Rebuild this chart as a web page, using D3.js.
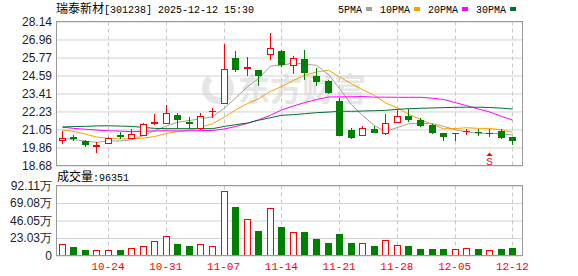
<!DOCTYPE html>
<html>
<head>
<meta charset="utf-8">
<script src="https://cdn.jsdelivr.net/npm/d3@7"></script>
<style>
  body { margin: 0; background: #fff; }
  svg { display: block; }
</style>
</head>
<body>
<div id="chart"></div>
<script>
// trading days shown (MM-DD)
const dates = ["10-20","10-21","10-22","10-23","10-24","10-27","10-28","10-29","10-30","10-31",
  "11-03","11-04","11-05","11-06","11-07","11-10","11-11","11-12","11-13","11-14",
  "11-17","11-18","11-19","11-20","11-21","11-24","11-25","11-26","11-27","11-28",
  "12-01","12-02","12-03","12-04","12-05","12-08","12-09","12-10","12-11","12-12"];

const openP  = [20.31,20.53,20.31,19.90,20.12,20.66,20.45,20.62,21.41,21.41,
  22.02,21.52,21.10,22.20,22.74,25.71,25.04,24.93,25.95,26.17,
  25.19,25.65,24.53,24.20,22.89,20.99,20.66,21.06,20.77,21.50,
  21.91,21.65,21.36,20.80,20.78,20.95,20.86,20.82,20.93,20.53];
const closeP = [20.51,20.38,20.05,20.01,20.51,20.51,20.77,21.43,21.56,22.15,
  21.67,21.41,21.93,22.23,25.04,24.93,25.17,24.55,26.41,25.25,
  25.74,24.75,24.14,23.42,20.62,20.49,21.17,20.82,21.50,21.93,
  21.67,21.28,20.82,20.56,20.80,20.97,20.80,20.84,20.49,20.29];
const highP  = [20.93,20.66,20.38,20.21,20.53,20.86,21.06,21.45,22.09,22.63,
  22.11,21.87,22.15,22.46,26.63,26.17,25.78,24.98,27.38,26.24,
  25.85,26.28,25.10,24.27,23.13,21.14,21.25,21.25,22.04,22.35,
  22.39,21.78,21.42,20.84,20.82,21.08,21.08,21.06,21.06,20.58];
const lowP   = [20.10,20.29,19.90,19.51,20.10,20.40,20.45,20.60,21.37,21.41,
  21.10,21.10,20.99,21.82,22.74,24.82,24.55,23.90,25.58,25.14,
  24.71,24.27,23.90,23.35,20.60,20.42,20.60,20.80,20.71,21.50,
  21.54,21.21,20.73,20.29,20.29,20.69,20.64,20.56,20.42,20.03];

// volume, in 万
const volume = [14.6,10.6,6.6,7.5,7.5,7.5,10.2,12.9,18.6,26.2,
  14.6,12.0,15.5,12.9,84.7,63.8,47.4,31.9,62.1,37.2,
  30.6,30.6,21.3,16.0,27.9,16.0,16.0,12.0,19.9,14.2,
  12.9,8.0,8.0,8.0,8.9,10.2,8.0,7.5,8.0,9.64];

// moving averages
const ma5  = [20.46,20.38,20.28,20.20,20.29,20.29,20.37,20.65,20.96,21.28,
  21.52,21.64,21.74,21.88,22.46,23.11,23.86,24.38,25.22,25.26,
  25.42,25.34,25.26,24.66,23.73,22.68,21.97,21.30,20.92,21.18,
  21.42,21.44,21.44,21.25,21.03,20.89,20.79,20.79,20.78,20.68];
const ma10 = [21.02,20.92,20.74,20.55,20.46,20.42,20.44,20.48,20.58,20.79,
  20.91,21.01,21.20,21.42,21.87,22.32,22.75,23.06,23.55,23.86,
  24.27,24.60,24.82,24.94,24.50,24.05,23.66,23.28,22.79,22.46,
  22.05,21.71,21.37,21.09,21.11,21.16,21.12,21.12,21.02,20.86];
const ma20 = [21.20,21.12,21.06,21.01,20.96,20.94,20.90,20.93,20.95,20.96,
  20.95,20.96,20.97,20.98,21.08,21.24,21.45,21.68,21.98,22.33,
  22.59,22.81,23.01,23.18,23.19,23.19,23.21,23.17,23.17,23.16,
  23.16,23.16,23.10,23.02,22.81,22.61,22.39,22.20,21.91,21.66];
const ma30 = [21.21,21.24,21.25,21.28,21.29,21.27,21.25,21.18,21.12,21.10,
  21.10,21.10,21.10,21.10,21.25,21.36,21.47,21.65,21.82,21.98,
  22.02,22.08,22.15,22.19,22.24,22.24,22.26,22.28,22.30,22.37,
  22.41,22.44,22.46,22.48,22.50,22.51,22.51,22.49,22.45,22.39];

const priceTicks = [28.14, 26.96, 25.77, 24.59, 23.41, 22.23, 21.05, 19.86, 18.68];
const volTicks = [0, 23.03, 46.05, 69.08, 92.11];
const dateTicks = ["10-24","10-31","11-07","11-14","11-21","11-28","12-05","12-12"];
const signalDay = "12-10";

const maSeries = [
  { name: "5PMA",  values: ma5,  color: "#a0a0a0" },
  { name: "10PMA", values: ma10, color: "#f5a300" },
  { name: "20PMA", values: ma20, color: "#ff00ff" },
  { name: "30PMA", values: ma30, color: "#006f2f" }
];

const UP = "#ff0000", DOWN = "#008000";
const sansFont = "'Liberation Sans', Arial, sans-serif";
const monoFont = "'Liberation Mono', monospace";
const cjkFont = "'Noto Sans CJK SC', sans-serif";

const width = 578, height = 276;
const left = 56, right = 522;

const svg = d3.select("#chart").append("svg")
  .attr("width", width)
  .attr("height", height);

const x = d3.scaleBand()
  .domain(d3.range(dates.length))
  .range([left, 518.2]);
const cx = i => Math.round(x(i) + x.bandwidth() / 2) + 0.5;

const y = d3.scaleLinear().domain([18.68, 28.14]).range([165.5, 21.5]);
const yv = d3.scaleLinear().domain([0, 92.11]).range([255.5, 185.5]);

///////////////////////////// header /////////////////////////////
const title = svg.append("text").attr("x", left).attr("y", 13).attr("fill", "#000");
title.append("tspan").style("font", `12px ${cjkFont}`).text("瑞泰新材");
title.append("tspan").style("font", `10px ${monoFont}`).text("[301238] 2025-12-12 15:30");

const legend = svg.append("g");
let lx = 338;
maSeries.forEach(s => {
  const t = legend.append("text").attr("x", lx).attr("y", 13)
    .style("font", `10px ${monoFont}`).attr("fill", "#000").text(s.name);
  const w = t.node().getComputedTextLength();
  legend.append("rect").attr("x", lx + w + 4).attr("y", 7).attr("width", 6).attr("height", 4)
    .attr("fill", s.color);
  lx += w + 4 + 6 + 8;
});

///////////////////////////// price panel /////////////////////////////
// watermark
const wm = svg.append("g").attr("fill", "#e6e6e6");
wm.append("path")
  .attr("d", d3.arc()({ innerRadius: 9, outerRadius: 16, startAngle: 0.6, endAngle: 5.6 }))
  .attr("transform", "translate(218,88)");
wm.append("text").attr("x", 238).attr("y", 101)
  .style("font", `bold 32px ${cjkFont}`).text("东方财富");

const yAxis = svg.append("g")
  .attr("transform", `translate(${left},0)`)
  .call(d3.axisLeft(y).tickValues(priceTicks).tickSize(-(right - left)).tickPadding(4)
    .tickFormat(d3.format(".2f")));
yAxis.select(".domain").remove();
yAxis.selectAll("line").attr("stroke", "#d2d2d2");
yAxis.selectAll("text").style("font", `12px ${sansFont}`).attr("fill", "#1c1c2c");

const tickIdx = dateTicks.map(d => dates.indexOf(d));
svg.append("g").selectAll("line")
  .data(tickIdx).enter().append("line")
  .attr("x1", d => cx(d)).attr("x2", d => cx(d))
  .attr("y1", y(28.14)).attr("y2", y(18.68))
  .attr("stroke", "#c8c8c8").attr("stroke-dasharray", "4,3");

svg.append("rect")
  .attr("x", left + 0.5).attr("y", y(28.14))
  .attr("width", right - left).attr("height", y(18.68) - y(28.14))
  .attr("fill", "none").attr("stroke", "#9a9a9a");

// moving averages
const maLine = d3.line().x((d, i) => cx(i)).y(d => y(d));
svg.append("g").selectAll("path")
  .data(maSeries).enter().append("path")
  .attr("d", d => maLine(d.values))
  .attr("fill", "none")
  .attr("stroke", d => d.color)
  .attr("stroke-width", 1);

// candles
const candles = svg.append("g").selectAll("g")
  .data(dates.map((d, i) => i)).enter().append("g");
candles.append("line")
  .attr("x1", i => cx(i)).attr("x2", i => cx(i))
  .attr("y1", i => Math.round(y(highP[i]))).attr("y2", i => Math.round(y(lowP[i])))
  .attr("stroke", i => closeP[i] >= openP[i] ? UP : DOWN);
candles.append("rect")
  .attr("x", i => closeP[i] >= openP[i] ? cx(i) - 3 : cx(i) - 3.5)
  .attr("width", i => closeP[i] >= openP[i] ? 6 : 7)
  .attr("y", i => {
    const t = Math.round(y(Math.max(openP[i], closeP[i])));
    return closeP[i] >= openP[i] ? t + 0.5 : t;
  })
  .attr("height", i => {
    const h = Math.max(1, Math.round(Math.abs(y(openP[i]) - y(closeP[i]))));
    return closeP[i] >= openP[i] ? Math.max(h - 1, 0.01) : h;
  })
  .attr("fill", i => closeP[i] >= openP[i] ? "#fff" : DOWN)
  .attr("stroke", i => closeP[i] >= openP[i] ? UP : "none");

// sell signal
const si = dates.indexOf(signalDay);
svg.append("path")
  .attr("d", `M${cx(si) - 3},${156} L${cx(si)},${152.5} L${cx(si) + 3},${156} Z`)
  .attr("fill", UP);
svg.append("text").attr("x", cx(si)).attr("y", 165).attr("text-anchor", "middle")
  .style("font", `11px ${monoFont}`).attr("fill", UP).text("S");

///////////////////////////// volume panel /////////////////////////////
svg.append("text").attr("x", left + 1).attr("y", 181).attr("fill", "#000")
  .call(t => {
    t.append("tspan").style("font", `12px ${cjkFont}`).text("成交量");
    t.append("tspan").style("font", `10px ${monoFont}`).text(":96351");
  });

const vAxis = svg.append("g")
  .attr("transform", `translate(${left},0)`)
  .call(d3.axisLeft(yv).tickValues(volTicks).tickSize(-(right - left)).tickPadding(4)
    .tickFormat(d => d === 0 ? "0" : d3.format(".2f")(d) + "万"));
vAxis.select(".domain").remove();
vAxis.selectAll("line").attr("stroke", "#d2d2d2");
vAxis.selectAll("text").style("font", `12px ${sansFont}`).attr("fill", "#1c1c2c");

svg.append("g").selectAll("line")
  .data(tickIdx).enter().append("line")
  .attr("x1", d => cx(d)).attr("x2", d => cx(d))
  .attr("y1", yv(92.11)).attr("y2", yv(0))
  .attr("stroke", "#c8c8c8").attr("stroke-dasharray", "4,3");

svg.append("g").selectAll("rect")
  .data(volume).enter().append("rect")
  .attr("x", (d, i) => closeP[i] >= openP[i] ? cx(i) - 3 : cx(i) - 3.5)
  .attr("width", (d, i) => closeP[i] >= openP[i] ? 6 : 7)
  .attr("y", (d, i) => closeP[i] >= openP[i] ? Math.round(yv(d)) + 0.5 : Math.round(yv(d)))
  .attr("height", (d, i) => Math.round(yv(0)) - Math.round(yv(d)) - (closeP[i] >= openP[i] ? 1 : 0))
  .attr("fill", (d, i) => closeP[i] >= openP[i] ? "#fff" : DOWN)
  .attr("stroke", (d, i) => closeP[i] >= openP[i] ? UP : "none");

svg.append("rect")
  .attr("x", left + 0.5).attr("y", yv(92.11))
  .attr("width", right - left).attr("height", yv(0) - yv(92.11))
  .attr("fill", "none").attr("stroke", "#9a9a9a");

// date labels
const xAxis = svg.append("g")
  .attr("transform", `translate(0,${yv(0)})`)
  .call(d3.axisBottom(x).tickValues(tickIdx).tickSize(0).tickPadding(7)
    .tickFormat(i => dates[i]));
xAxis.select(".domain").remove();
xAxis.selectAll("text").style("font", `11px ${monoFont}`).attr("fill", UP);
</script>
</body>
</html>
